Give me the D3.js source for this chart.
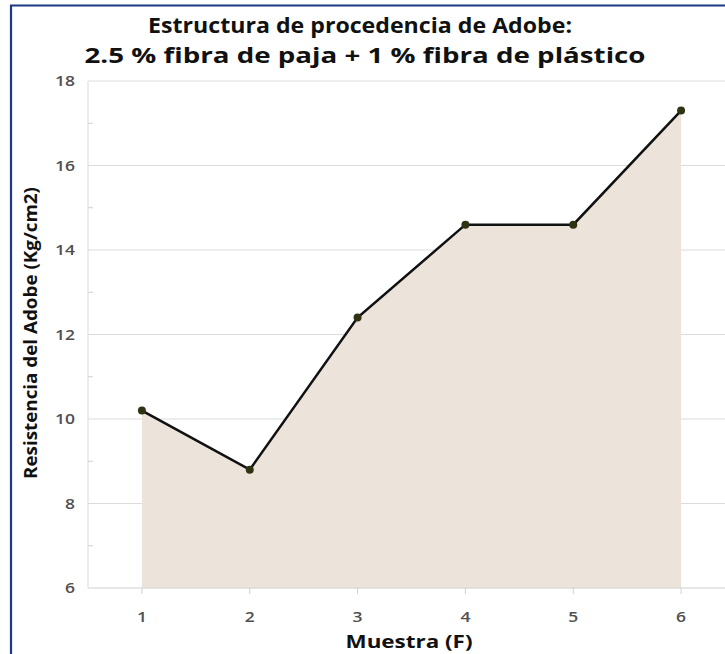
<!DOCTYPE html>
<html><head><meta charset="utf-8">
<script src="https://cdn.jsdelivr.net/npm/d3@7"></script>
<style>body{margin:0;background:#fff;} svg{display:block;}</style>
</head><body>
<svg id="c" width="725" height="654"></svg>
<script>
const samples = [1, 2, 3, 4, 5, 6];
const resistance = [10.2, 8.8, 12.4, 14.6, 14.6, 17.3];
const yTicks = [6, 8, 10, 12, 14, 16, 18];
const yMinor = [7, 9, 11, 13, 15, 17];
const titleLines = ["Estructura de procedencia de Adobe:", "2.5 % fibra de paja + 1 % fibra de plástico"];
const xTitle = "Muestra (F)";
const yTitle = "Resistencia del Adobe (Kg/cm2)";

const data = samples.map((s, i) => ({x: s, y: resistance[i]}));
const svg = d3.select("#c");
const font = "'Open Sans', 'DejaVu Sans', sans-serif";

// frame
svg.append("line").attr("x1", 11).attr("x2", 11).attr("y1", 5).attr("y2", 654).attr("stroke", "#1b3a82").attr("stroke-width", 2.2);
svg.append("line").attr("x1", 10).attr("x2", 725).attr("y1", 5.5).attr("y2", 5.5).attr("stroke", "#1b3a82").attr("stroke-width", 2.2);

const x = d3.scaleLinear().domain([0.5, 6.5]).range([88, 735]);
const y = d3.scaleLinear().domain([6, 18]).range([588, 81]);

// gridlines
svg.append("g").selectAll("line").data(yTicks.slice(1)).join("line")
  .attr("x1", 88).attr("x2", 735).attr("y1", d => y(d)).attr("y2", d => y(d))
  .attr("stroke", "#dcdcdc").attr("stroke-width", 1);

// area
const area = d3.area().x(d => x(d.x)).y0(y(6)).y1(d => y(d.y));
svg.append("path").datum(data).attr("d", area).attr("fill", "#ece3db");

// axes lines
svg.append("line").attr("x1", 88).attr("x2", 735).attr("y1", y(6)).attr("y2", y(6)).attr("stroke", "#d0d0d0");
svg.append("line").attr("x1", 88).attr("x2", 88).attr("y1", y(18)).attr("y2", y(6)).attr("stroke", "#d9d9d9");

// y minor ticks
svg.append("g").selectAll("line").data(yMinor).join("line")
  .attr("x1", 88).attr("x2", 93).attr("y1", d => y(d)).attr("y2", d => y(d)).attr("stroke", "#d0d0d0");

// x ticks
svg.append("g").selectAll("line").data(samples).join("line")
  .attr("x1", d => x(d)).attr("x2", d => x(d)).attr("y1", y(6)).attr("y2", y(6) + 6).attr("stroke", "#d0d0d0");

// y tick labels
svg.append("g").selectAll("text").data(yTicks).join("text")
  .attr("x", 75).attr("y", d => y(d) + 5).attr("text-anchor", "end")
  .attr("font-family", font).attr("font-size", 14).attr("font-weight", 600).attr("fill", "#505050")
  .attr("textLength", d => String(d).length * 10).attr("lengthAdjust", "spacingAndGlyphs").text(d => d);

// x tick labels
svg.append("g").selectAll("text").data(samples).join("text")
  .attr("x", d => x(d)).attr("y", 622).attr("text-anchor", "middle")
  .attr("font-family", font).attr("font-size", 14).attr("font-weight", 600).attr("fill", "#505050")
  .attr("textLength", d => String(d).length * 10).attr("lengthAdjust", "spacingAndGlyphs").text(d => d);

// line
const line = d3.line().x(d => x(d.x)).y(d => y(d.y));
svg.append("path").datum(data).attr("d", line).attr("fill", "none").attr("stroke", "#111").attr("stroke-width", 2.5);
svg.append("g").selectAll("circle").data(data).join("circle")
  .attr("cx", d => x(d.x)).attr("cy", d => y(d.y)).attr("r", 4).attr("fill", "#2f3314");

// titles
svg.append("text").attr("x", 360).attr("y", 33).attr("text-anchor", "middle")
  .attr("font-family", font).attr("font-weight", "bold").attr("font-size", 20.5).attr("fill", "#111")
  .attr("textLength", 424).attr("lengthAdjust", "spacingAndGlyphs").text(titleLines[0]);
svg.append("text").attr("x", 365).attr("y", 63).attr("text-anchor", "middle")
  .attr("font-family", font).attr("font-weight", "bold").attr("font-size", 20.5).attr("fill", "#111")
  .attr("textLength", 561).attr("lengthAdjust", "spacingAndGlyphs").text(titleLines[1]);

svg.append("text").attr("x", 409).attr("y", 648).attr("text-anchor", "middle")
  .attr("font-family", font).attr("font-weight", "bold").attr("font-size", 17).attr("fill", "#111")
  .attr("textLength", 127).attr("lengthAdjust", "spacingAndGlyphs").text(xTitle);

svg.append("text").attr("transform", "translate(37,333) rotate(-90)").attr("text-anchor", "middle")
  .attr("font-family", font).attr("font-weight", "bold").attr("font-size", 17).attr("fill", "#111")
  .attr("textLength", 292).attr("lengthAdjust", "spacingAndGlyphs").text(yTitle);
</script>
</body></html>
